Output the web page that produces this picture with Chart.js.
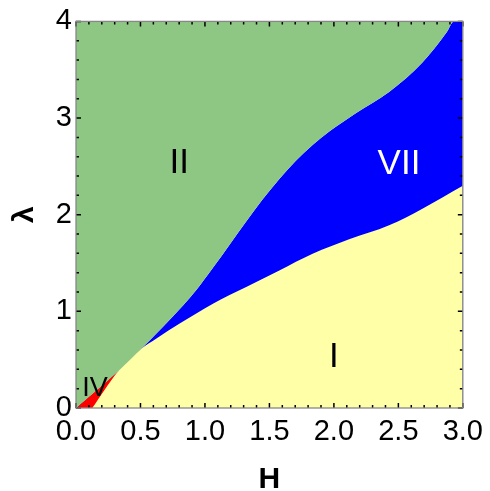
<!DOCTYPE html>
<html>
<head>
<meta charset="utf-8">
<script src="https://cdn.jsdelivr.net/npm/chart.js@4"></script>
<style>
  html, body { margin: 0; padding: 0; background: #fff; }
</style>
</head>
<body>
<canvas id="phaseChart" width="490" height="491"></canvas>
<script>
// Phase diagram in the (H, lambda) plane, regions I, II, IV, VII

// upper edge of the lower phases (border with II)
const upperH = [0, 0.327, 0.508, 0.675, 0.83, 0.933, 1.062, 1.191, 1.32, 1.448, 1.577, 1.707, 1.835, 1.964, 2.17, 2.428, 2.683, 2.876, 2.93, 3.0];
const upperL = [0, 0.381, 0.615, 0.84, 1.06, 1.22, 1.45, 1.69, 1.93, 2.16, 2.37, 2.56, 2.72, 2.86, 3.05, 3.27, 3.57, 3.89, 4.0, 4.0];

// upper edge of phase I (border with IV and VII)
const lowerH = [0.126, 0.327, 0.508, 0.624, 0.804, 1.062, 1.32, 1.577, 1.835, 2.118, 2.428, 2.683, 3.0];
const lowerL = [0, 0.381, 0.615, 0.719, 0.873, 1.079, 1.251, 1.423, 1.595, 1.745, 1.89, 2.06, 2.30];

// upper edge of phase IV (small wedge near the origin)
const redH = [0, 0.327];
const redL = [0, 0.381];

// region names and where they sit
const regionNames = ["II", "VII", "I", "IV"];
const regionH = [0.80, 2.505, 2.0, 0.147];
const regionL = [2.53, 2.52, 0.52, 0.20];
const regionColors = ["#000", "#fff", "#000", "#000"];

// axis ticks
const xTicks = [0, 0.5, 1.0, 1.5, 2.0, 2.5, 3.0];
const yTicks = [0, 1, 2, 3, 4];

const GREEN = "rgb(141,199,131)";
const BLUE = "rgb(0,0,255)";
const YELLOW = "rgb(255,255,167)";
const RED = "rgb(255,0,0)";

function pts(xs, ys) {
    return xs.map((v, i) => ({ x: v, y: ys[i] }));
}

// inward tick marks on all four sides, grey frame, region names
const frameAndTicks = {
    id: "frameAndTicks",
    afterDatasetsDraw(chart) {
        const { ctx, chartArea: a, scales } = chart;
        const x = scales.x, y = scales.y;
        ctx.save();
        ctx.strokeStyle = "#000";
        ctx.lineWidth = 1.5;
        ctx.beginPath();
        for (let i = 0; i <= 30; i++) {
            const px = x.getPixelForValue(i / 10);
            const len = i % 5 === 0 ? 5 : 3;
            ctx.moveTo(px, a.bottom); ctx.lineTo(px, a.bottom - len);
            ctx.moveTo(px, a.top); ctx.lineTo(px, a.top + len);
        }
        for (let i = 0; i <= 20; i++) {
            const py = y.getPixelForValue(i / 5);
            const len = i % 5 === 0 ? 5 : 3;
            ctx.moveTo(a.left, py); ctx.lineTo(a.left + len, py);
            ctx.moveTo(a.right, py); ctx.lineTo(a.right - len, py);
        }
        ctx.stroke();
        ctx.strokeStyle = "#888";
        ctx.lineWidth = 1.3;
        ctx.strokeRect(a.left, a.top, a.right - a.left, a.bottom - a.top);

        ctx.textAlign = "center";
        ctx.textBaseline = "middle";
        regionNames.forEach((name, i) => {
            ctx.font = (name === "IV" ? "27px" : "35px") + " 'Liberation Sans', Arial, sans-serif";
            ctx.fillStyle = regionColors[i];
            ctx.fillText(name, x.getPixelForValue(regionH[i]), y.getPixelForValue(regionL[i]));
        });
        ctx.restore();
    }
};

const tickFont = { family: "'Liberation Sans', Arial, sans-serif", size: 29 };
const titleFont = { family: "'Liberation Sans', Arial, sans-serif", size: 30, weight: "bold", lineHeight: 1 };

new Chart(document.getElementById("phaseChart"), {
    type: "line",
    data: {
        datasets: [
            { label: "II", data: pts(upperH, upperL), backgroundColor: GREEN, fill: "end", order: 0 },
            { label: "I", data: pts(lowerH, lowerL), backgroundColor: YELLOW, fill: "start", order: 1 },
            { label: "IV", data: pts(redH, redL), backgroundColor: RED, fill: "start", order: 2 },
            { label: "VII", data: pts(upperH, upperL), backgroundColor: BLUE, fill: "start", order: 3 }
        ]
    },
    options: {
        responsive: false,
        animation: false,
        events: [],
        elements: {
            line: { borderWidth: 0, cubicInterpolationMode: "monotone" },
            point: { radius: 0 }
        },
        layout: { padding: { top: 20, right: 26, left: 0, bottom: 0 } },
        plugins: {
            legend: { display: false },
            tooltip: { enabled: false }
        },
        scales: {
            x: {
                type: "linear",
                min: 0,
                max: 3,
                afterFit: s => { s.height = 83; },
                afterBuildTicks: s => { s.ticks = xTicks.map(v => ({ value: v })); },
                grid: { display: false, drawTicks: false },
                border: { display: false },
                ticks: {
                    autoSkip: false,
                    maxRotation: 0,
                    padding: 7,
                    color: "#000",
                    font: tickFont,
                    callback: v => Number(v).toFixed(1)
                },
                title: { display: true, text: "H", color: "#000", font: titleFont, padding: { top: 0, bottom: -4 } }
            },
            y: {
                type: "linear",
                min: 0,
                max: 4,
                afterFit: s => { s.width = 76; },
                afterBuildTicks: s => { s.ticks = yTicks.map(v => ({ value: v })); },
                grid: { display: false, drawTicks: false },
                border: { display: false },
                ticks: {
                    autoSkip: false,
                    padding: 4,
                    color: "#000",
                    font: tickFont,
                    callback: v => String(v)
                },
                title: { display: true, text: "λ", color: "#000", font: titleFont, padding: { top: 10, bottom: 0 } }
            }
        }
    },
    plugins: [frameAndTicks]
});
</script>
</body>
</html>
